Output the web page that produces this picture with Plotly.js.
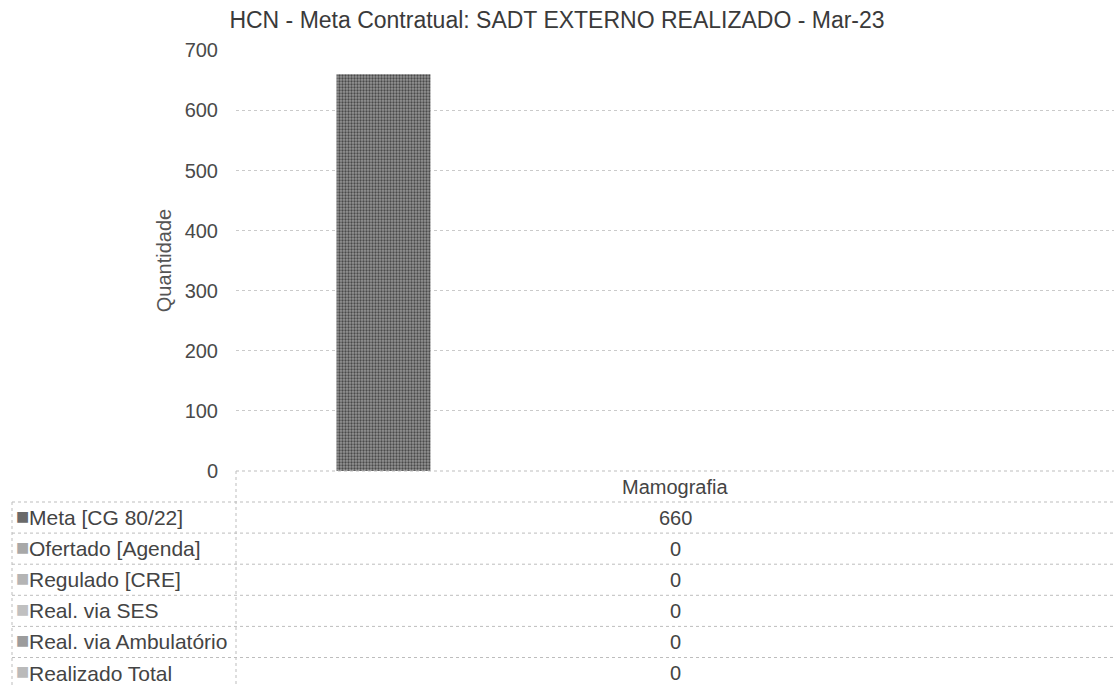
<!DOCTYPE html>
<html>
<head>
<meta charset="utf-8">
<script src="https://cdn.plot.ly/plotly-3.0.1.min.js"></script>
<style>html,body{margin:0;padding:0;background:#fff;}#chart{width:1114px;height:686px;}</style>
</head>
<body>
<div id="chart"></div>
<script>
// ---- data ----
const chartTitle = 'HCN - Meta Contratual: SADT EXTERNO REALIZADO - Mar-23';
const yTitle = 'Quantidade';
const categories = ['Mamografia'];
const seriesNames = ['Meta [CG 80/22]', 'Ofertado [Agenda]', 'Regulado [CRE]', 'Real. via SES', 'Real. via Ambulatório', 'Realizado Total'];
const metaValues = [660];
const ofertadoValues = [0];
const reguladoValues = [0];
const sesValues = [0];
const ambulatorioValues = [0];
const totalValues = [0];
const yTickVals = [0, 100, 200, 300, 400, 500, 600, 700];

// ---- styling ----
const seriesValues = [metaValues, ofertadoValues, reguladoValues, sesValues, ambulatorioValues, totalValues];
const seriesColors = ['#6a6a6a', '#a8a8a8', '#b4b4b4', '#c0c0c0', '#9c9c9c', '#bababa'];
const FONT = '"Liberation Sans", Arial, sans-serif';

// pixel geometry of the figure
const L = 236, R = 1114, T = 50, B = 471;
const W = R - L, H = B - T;
const px = x => (x - L) / W;
const py = y => (B - y) / H;

const barW = 0.107;
const firstOffset = -0.3855;

const traces = seriesNames.map((name, i) => ({
  type: 'bar',
  name: name,
  x: categories,
  y: seriesValues[i],
  width: barW,
  offset: firstOffset + i * barW,
  marker: {
    color: seriesColors[i],
    line: {width: 0},
    pattern: i === 0 ? {shape: '.', fgcolor: '#4a4a4a', bgcolor: '#959595', size: 3, solidity: 0.45} : undefined
  },
  hoverinfo: 'skip'
}));

const lineStyle = {color: '#bdbdbd', width: 1, dash: 'dot'};
const shapes = [];
// x axis line / header top
shapes.push({type: 'line', xref: 'paper', yref: 'paper', x0: 0, x1: 1, y0: 0, y1: 0, line: lineStyle});
// row lines
const rowTop = 502, rowH = 31.1, nRows = seriesNames.length;
for (let i = 0; i <= nRows; i++) {
  const yy = rowTop + i * rowH;
  shapes.push({type: 'line', xref: 'paper', yref: 'paper', x0: px(12), x1: 1, y0: py(yy), y1: py(yy), line: lineStyle});
}
// vertical lines
shapes.push({type: 'line', xref: 'paper', yref: 'paper', x0: 0, x1: 0, y0: 0, y1: py(700), line: lineStyle});
shapes.push({type: 'line', xref: 'paper', yref: 'paper', x0: px(12), x1: px(12), y0: py(rowTop), y1: py(700), line: lineStyle});

const annotations = [];
const tfont = {family: FONT, size: 20, color: '#444'};
const lfont = {family: FONT, size: 21, color: '#444'};
categories.forEach(c => {
  annotations.push({xref: 'paper', yref: 'paper', x: 0.5, y: py(486.5), text: c, showarrow: false, xanchor: 'center', yanchor: 'middle', font: tfont});
});
seriesNames.forEach((name, i) => {
  const yc = py(rowTop + (i + 0.5) * rowH);
  annotations.push({xref: 'paper', yref: 'paper', x: px(14), y: yc, yshift: 2, text: '■', showarrow: false, xanchor: 'left', yanchor: 'middle', font: {family: 'DejaVu Sans', size: 14, color: seriesColors[i]}});
  annotations.push({xref: 'paper', yref: 'paper', x: px(27), y: yc, text: name, showarrow: false, xanchor: 'left', yanchor: 'middle', font: lfont});
  annotations.push({xref: 'paper', yref: 'paper', x: 0.5, y: yc, text: String(seriesValues[i][0]), showarrow: false, xanchor: 'center', yanchor: 'middle', font: tfont});
});

const layout = {
  width: 1114, height: 686,
  margin: {l: L, r: 1114 - R, t: T, b: 686 - B, pad: 0},
  paper_bgcolor: '#fff', plot_bgcolor: '#fff',
  showlegend: false,
  barmode: 'group',
  font: {family: FONT, size: 20, color: '#444'},
  title: {text: chartTitle, x: 0.5, xref: 'container', xanchor: 'center', y: 1 - 20 / 686, yref: 'container', yanchor: 'middle', font: {family: FONT, size: 23, color: '#3a3a3a'}},
  xaxis: {type: 'category', range: [-0.5, 0.5], showticklabels: false, showgrid: false, zeroline: false, showline: false, ticks: '', fixedrange: true},
  yaxis: {range: [0, 700.5], tickvals: yTickVals, showgrid: true, gridcolor: '#cacaca', griddash: 'dot', gridwidth: 1, zeroline: false, showline: false, ticks: '', ticklabelstandoff: 17,
    tickfont: {family: FONT, size: 20, color: '#4a4a4a'},
    title: {text: yTitle, standoff: 7, font: {family: FONT, size: 20, color: '#555'}}, automargin: false, fixedrange: true},
  shapes: shapes,
  annotations: annotations
};

Plotly.newPlot('chart', traces, layout, {displayModeBar: false, staticPlot: true});
</script>
</body>
</html>
